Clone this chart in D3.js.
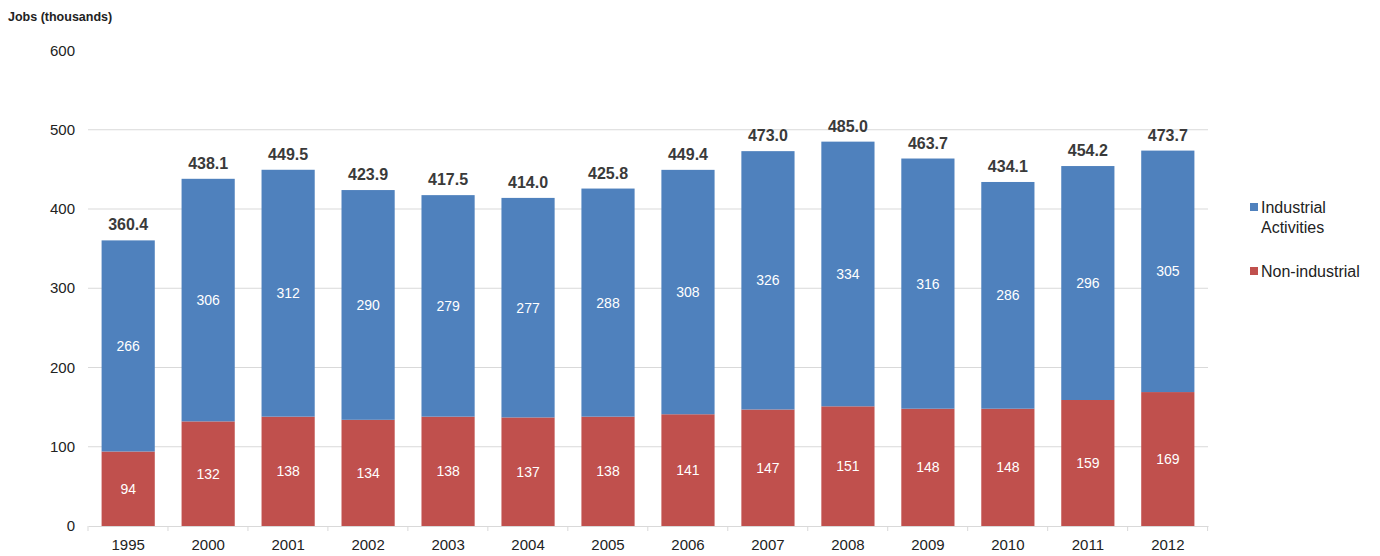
<!DOCTYPE html>
<html>
<head>
<meta charset="utf-8">
<script src="https://cdn.jsdelivr.net/npm/d3@7"></script>
<style>
  body { margin: 0; background: #fff; }
  svg { display: block; font-family: "Liberation Sans", Arial, sans-serif; }
</style>
</head>
<body>
<svg id="chart" width="1380" height="556"></svg>
<script>
var years = ["1995", "2000", "2001", "2002", "2003", "2004", "2005", "2006", "2007", "2008", "2009", "2010", "2011", "2012"];
var nonIndustrial = [94, 132, 138, 134, 138, 137, 138, 141, 147, 151, 148, 148, 159, 169];
var industrial = [266, 306, 312, 290, 279, 277, 288, 308, 326, 334, 316, 286, 296, 305];
var totals = [360.4, 438.1, 449.5, 423.9, 417.5, 414.0, 425.8, 449.4, 473.0, 485.0, 463.7, 434.1, 454.2, 473.7];
var yTicks = [0, 100, 200, 300, 400, 500, 600];
var legendItems = [
  { lines: ["Industrial", "Activities"], color: "#4f81bd" },
  { lines: ["Non-industrial"], color: "#c0504d" }
];

var svg = d3.select("#chart");
// note: "top" is taken by window.top, so use plot* names
var plotLeft = 88, plotRight = 1208, plotTop = 50.5, plotBottom = 526;

var x = d3.scaleBand().domain(years).range([plotLeft, plotRight]).paddingInner(0.335).paddingOuter(0.17);
var y = d3.scaleLinear().domain([0, 600]).range([plotBottom, plotTop]);

// gridlines
svg.append("g")
  .selectAll("line")
  .data(yTicks.filter(function(d) { return d > 0 && d < 600; }))
  .enter()
  .append("line")
  .attr("x1", plotLeft).attr("x2", plotRight)
  .attr("y1", function(d) { return y(d); })
  .attr("y2", function(d) { return y(d); })
  .attr("stroke", "#d9d9d9").attr("stroke-width", 1);

// y axis labels
svg.append("g")
  .selectAll("text")
  .data(yTicks)
  .enter()
  .append("text")
  .attr("x", 75)
  .attr("y", function(d) { return y(d) + 5; })
  .attr("text-anchor", "end")
  .attr("font-size", 15)
  .attr("fill", "#222")
  .text(function(d) { return d; });

svg.append("text")
  .attr("x", 8).attr("y", 21)
  .attr("font-size", 12.5).attr("font-weight", "bold").attr("fill", "#222")
  .text("Jobs (thousands)");

// x axis
var xAxis = d3.axisBottom(x).tickSize(0).tickSizeOuter(0);
var gx = svg.append("g").attr("transform", "translate(0," + plotBottom + ")").call(xAxis);
gx.select(".domain").attr("stroke", "#d9d9d9");
gx.selectAll("text").attr("font-size", 15).attr("fill", "#222").attr("dy", "1.4em")
  .attr("font-family", "Liberation Sans, Arial, sans-serif");

var step = x.step();
svg.append("g")
  .selectAll("line")
  .data(d3.range(years.length + 1))
  .enter()
  .append("line")
  .attr("x1", function(i) { return plotLeft + i * step; })
  .attr("x2", function(i) { return plotLeft + i * step; })
  .attr("y1", plotBottom).attr("y2", plotBottom + 5)
  .attr("stroke", "#d9d9d9");

// bars
var rows = years.map(function(yr, i) {
  return { year: yr, non: nonIndustrial[i], ind: industrial[i], total: totals[i] };
});

var bars = svg.append("g").selectAll("g").data(rows).enter().append("g");

bars.append("rect")
  .attr("x", function(d) { return x(d.year); })
  .attr("width", x.bandwidth())
  .attr("y", function(d) { return y(d.non); })
  .attr("height", function(d) { return y(0) - y(d.non); })
  .attr("fill", "#c0504d");

bars.append("rect")
  .attr("x", function(d) { return x(d.year); })
  .attr("width", x.bandwidth())
  .attr("y", function(d) { return y(d.total); })
  .attr("height", function(d) { return y(d.non) - y(d.total); })
  .attr("fill", "#4f81bd");

bars.append("text")
  .attr("x", function(d) { return x(d.year) + x.bandwidth() / 2; })
  .attr("y", function(d) { return y(d.non / 2) + 5; })
  .attr("text-anchor", "middle").attr("font-size", 14).attr("fill", "#fff")
  .text(function(d) { return d.non; });

bars.append("text")
  .attr("x", function(d) { return x(d.year) + x.bandwidth() / 2; })
  .attr("y", function(d) { return y((d.non + d.total) / 2) + 5; })
  .attr("text-anchor", "middle").attr("font-size", 14).attr("fill", "#fff")
  .text(function(d) { return d.ind; });

bars.append("text")
  .attr("x", function(d) { return x(d.year) + x.bandwidth() / 2; })
  .attr("y", function(d) { return y(d.total) - 10; })
  .attr("text-anchor", "middle").attr("font-size", 16).attr("font-weight", "bold").attr("fill", "#3a3a3a")
  .text(function(d) { return d.total.toFixed(1); });

// legend
var legendY = [207, 271];
var legend = svg.append("g").selectAll("g").data(legendItems).enter().append("g")
  .attr("transform", function(d, i) { return "translate(1250," + legendY[i] + ")"; });

legend.append("rect")
  .attr("x", 0).attr("y", -4).attr("width", 8).attr("height", 8)
  .attr("fill", function(d) { return d.color; });

legend.append("text")
  .attr("font-size", 16).attr("fill", "#222")
  .selectAll("tspan")
  .data(function(d) { return d.lines; })
  .enter()
  .append("tspan")
  .attr("x", 11)
  .attr("y", function(d, i) { return 6 + i * 20; })
  .text(function(d) { return d; });
</script>
</body>
</html>
